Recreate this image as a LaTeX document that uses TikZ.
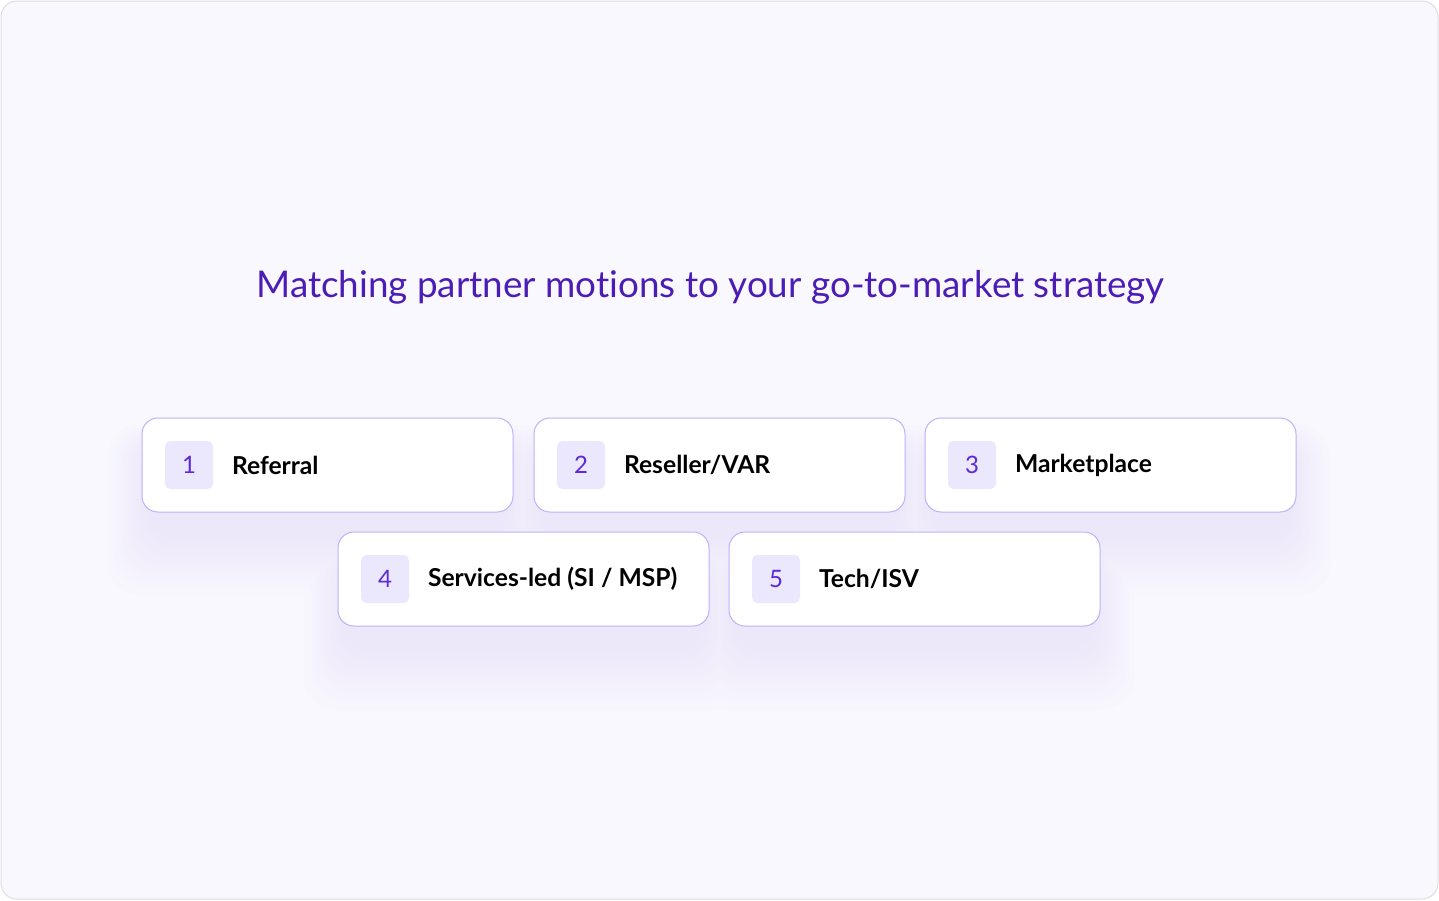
\documentclass[tikz,border=0pt]{standalone}
\usepackage{fontspec}
\setmainfont{Lato}[Ligatures=NoCommon]
\usetikzlibrary{positioning}
\definecolor{pagebg}{RGB}{249,248,254}
\definecolor{framegray}{RGB}{222,221,230}
\definecolor{cardline}{RGB}{190,176,250}
\definecolor{badgefill}{RGB}{235,231,253}
\definecolor{numpurple}{RGB}{92,42,217}
\definecolor{titlepurple}{RGB}{76,29,181}
\definecolor{shadowdeep}{RGB}{236,231,249}
\tikzset{every picture/.style={line width=0.75pt},
  card/.style={draw=cardline, fill=white, rounded corners=12pt, minimum width=278.25pt, minimum height=70.5pt, inner sep=0pt},
  badge/.style={fill=badgefill, rounded corners=4pt, minimum size=36pt, inner sep=0pt, text=numpurple, font=\fontsize{18}{18}\selectfont},
  motion/.style={anchor=west, inner sep=0pt, text=black, font=\fontsize{18.5}{18.5}\selectfont\bfseries}
}

\begin{document}
\begin{tikzpicture}[x=0.75pt,y=0.75pt,yscale=-1,xscale=1]
\useasboundingbox (0,0) rectangle (1439,900);

%Shape: Rectangle [frame]
\draw [draw=framegray, fill=pagebg, rounded corners=12pt] (1,1) rectangle (1438,899);

% soft shadows under the cards, outer layers first
\foreach \i in {20,...,1}{
  \pgfmathsetmacro\mix{100-4.5*\i}
  \foreach \cx/\cy in {327.5/465, 719.5/465, 1110.5/465, 523.5/579, 914.5/579}
    \fill [shadowdeep!\mix!pagebg, rounded corners=24pt] (\cx-180-2*\i,\cy-20-\i) rectangle (\cx+180+2*\i,\cy+70+3*\i);
}

% Text Node
\node (title) at (710.5,287) [text=titlepurple, font=\fontsize{27.6}{27.6}\selectfont] {Matching partner motions to your go-to-market strategy};

%Shape: Cards
\node (c1) at (327.5,465) [card] {};
\node (c2) at (719.5,465) [card] {};
\node (c3) at (1110.5,465) [card] {};
\node (c4) at (523.5,579) [card] {};
\node (c5) at (914.5,579) [card] {};

% Badges and labels
\node (b1) [badge, right=17.25pt of c1.west] {1};
\node (t1) [motion, right=13.5pt of b1.east] {Referral};
\node (b2) [badge, right=17.25pt of c2.west] {2};
\node (t2) [motion, right=13.5pt of b2.east] {Reseller/VAR};
\node (b3) [badge, right=17.25pt of c3.west] {3};
\node (t3) [motion, right=13.5pt of b3.east] {Marketplace};
\node (b4) [badge, right=17.25pt of c4.west] {4};
\node (t4) [motion, right=13.5pt of b4.east] {Services-led (SI / MSP)};
\node (b5) [badge, right=17.25pt of c5.west] {5};
\node (t5) [motion, right=13.5pt of b5.east] {Tech/ISV};
\end{tikzpicture}
\end{document}
